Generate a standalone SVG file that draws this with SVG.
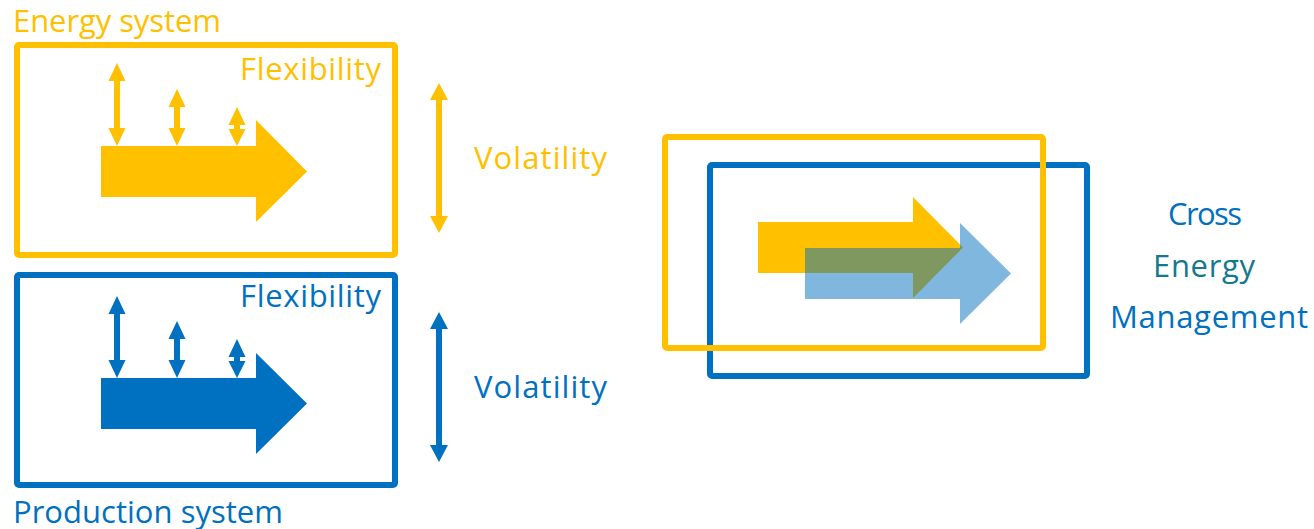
<svg xmlns="http://www.w3.org/2000/svg" width="1314" height="529" viewBox="0 0 1314 529">
<style>
  .lbl { font-family: "Open Sans", "Noto Sans", "Liberation Sans", sans-serif; font-size: 31px; }
  .y { fill: #ffc000; }
  .b { fill: #0070c0; }
  .teal { fill: #14788f; }
  .boxY { fill: none; stroke: #ffc000; stroke-width: 6; }
  .boxB { fill: none; stroke: #0070c0; stroke-width: 6; }
  .blueT { fill: #0070c0; fill-opacity: 0.5; }
</style>
<rect width="1314" height="529" fill="#ffffff"/>

<g id="energy-system">
  <rect class="boxY" x="17" y="45" width="378" height="210" rx="2"/>
  <text class="lbl y" x="13" y="32" textLength="208">Energy system</text>
  <text class="lbl y" x="381" y="80" text-anchor="end" textLength="141">Flexibility</text>
  <path class="y" d="M101,146 H256 V120 L307,171.5 L256,222 V197 H101 Z"/>
  <path class="y" d="M117,63 L125.5,81 H120 V128 H125.5 L117,146 L108.5,128 H114 V81 H108.5 Z"/>
  <path class="y" d="M177,89 L185.5,107 H180 V128 H185.5 L177,146 L168.5,128 H174 V107 H168.5 Z"/>
  <path class="y" d="M237,107 L245.5,125 H240 V129 H245.5 L237,146 L228.5,129 H234 V125 H228.5 Z"/>
</g>

<g id="energy-volatility">
  <path class="y" d="M439,83 L448,100 H442 V216 H448 L439,233 L430,216 H436 V100 H430 Z"/>
  <text class="lbl y" x="474" y="169" textLength="133">Volatility</text>
</g>

<g id="production-system">
  <rect class="boxB" x="17" y="275" width="378" height="210" rx="2"/>
  <text class="lbl b" x="13" y="523" textLength="270">Production system</text>
  <text class="lbl b" x="381" y="307" text-anchor="end" textLength="141">Flexibility</text>
  <path class="b" d="M101,378 H256 V353 L307,403.5 L256,454 V429 H101 Z"/>
  <path class="b" d="M117,296 L125.5,314 H120 V360 H125.5 L117,378 L108.5,360 H114 V314 H108.5 Z"/>
  <path class="b" d="M177,321 L185.5,339 H180 V360 H185.5 L177,378 L168.5,360 H174 V339 H168.5 Z"/>
  <path class="b" d="M237,339 L245.5,357 H240 V361 H245.5 L237,378 L228.5,361 H234 V357 H228.5 Z"/>
</g>

<g id="production-volatility">
  <path class="b" d="M439,312 L448,329 H442 V445 H448 L439,462 L430,445 H436 V329 H430 Z"/>
  <text class="lbl b" x="474" y="398" textLength="133">Volatility</text>
</g>

<g id="cross-energy">
  <rect class="boxB" x="710" y="165" width="377" height="211" rx="2"/>
  <rect class="boxY" x="665" y="137" width="378" height="211" rx="2"/>
  <path class="y" d="M758,222 H913 V197 L963,247.5 L913,298 V273 H758 Z"/>
  <path class="blueT" d="M805,248 H960 V223 L1011,273.5 L960,324 V299 H805 Z"/>
</g>

<g id="cross-energy-label">
  <text class="lbl b" x="1168" y="225" textLength="74">Cross</text>
  <text class="lbl teal" x="1153" y="277" textLength="102">Energy</text>
  <text class="lbl b" x="1110" y="328" textLength="198">Management</text>
</g>
</svg>
